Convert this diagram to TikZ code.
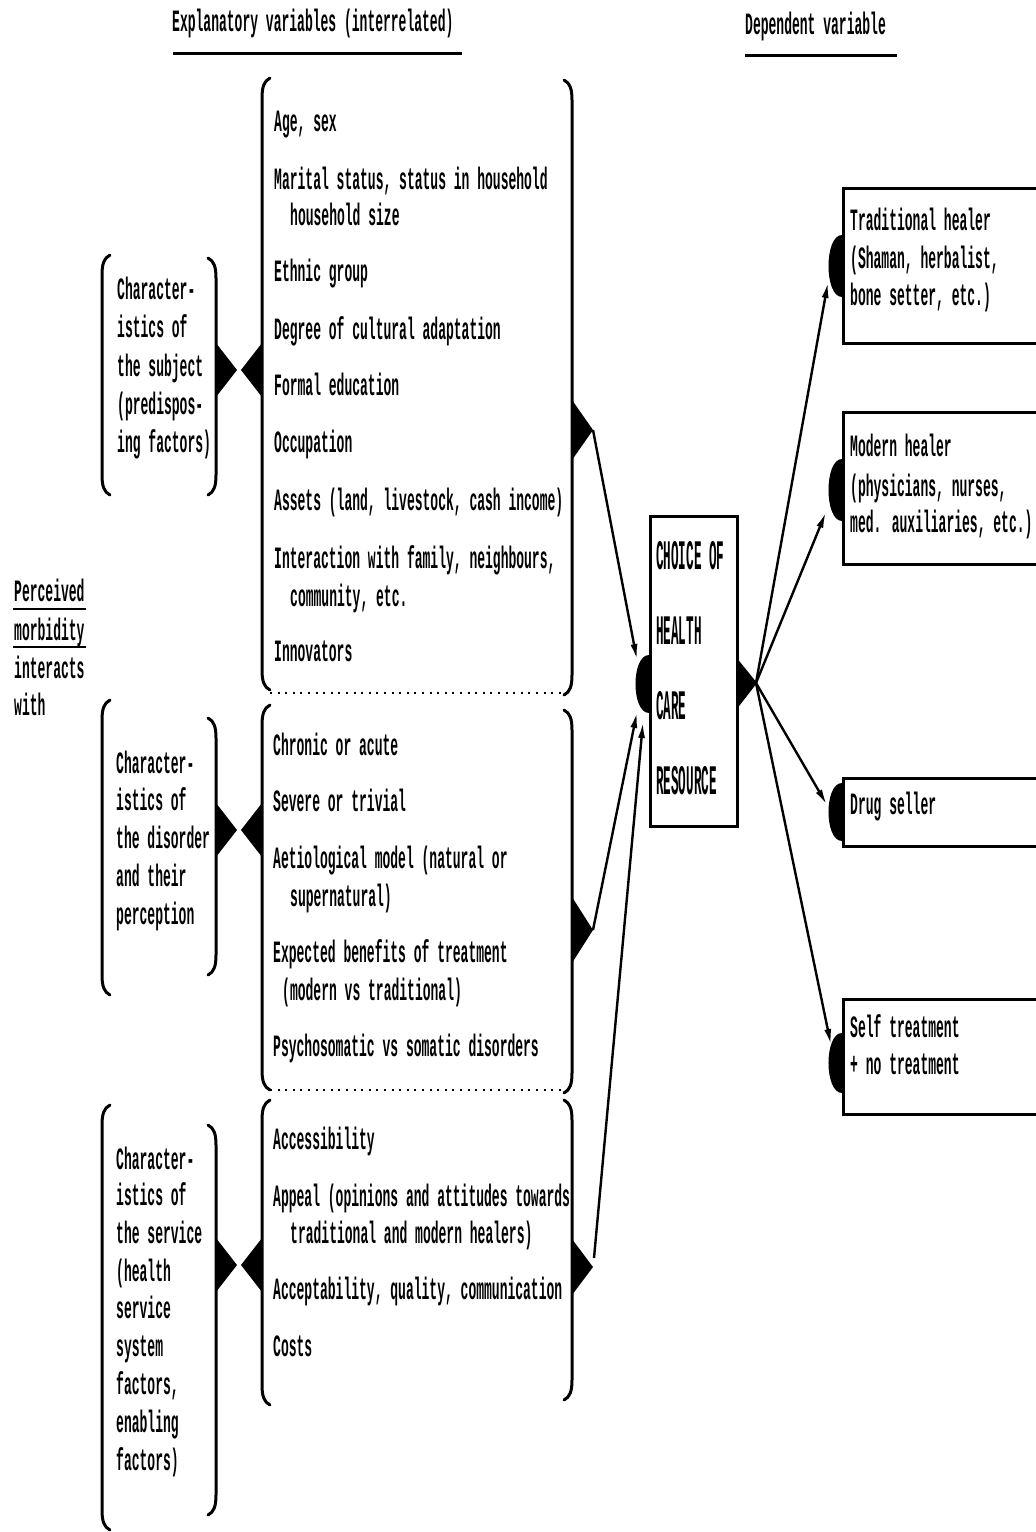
\documentclass[tikz,border=0pt]{standalone}
\usepackage{fontspec}
\usetikzlibrary{arrows.meta}
% condensed typewriter faces
\newfontfamily\twfont{Liberation Mono Bold}[FakeStretch=0.42]
\newfontfamily\twbig{Liberation Mono Bold}[FakeStretch=0.30]

% tall round brackets: x, top, bottom
\newcommand\brakL[3]{\draw[brak] (#1+8,#2) .. controls (#1+2,#2+3) and (#1,#2+9) .. (#1,#2+20) -- (#1,#3-20) .. controls (#1,#3-9) and (#1+2,#3-3) .. (#1+8,#3);}
\newcommand\brakR[3]{\draw[brak] (#1-8,#2) .. controls (#1-2,#2+3) and (#1,#2+9) .. (#1,#2+20) -- (#1,#3-20) .. controls (#1,#3-9) and (#1-2,#3-3) .. (#1-8,#3);}
% pair of wedges joining a small bracket to a large one, centred at height #1
\newcommand\tieat[1]{\fill (216,#1-27) -- (237,#1) -- (216,#1+27) -- cycle; \fill (262,#1-27) -- (241,#1) -- (262,#1+27) -- cycle;}
% half disc on the left side of a box: x, top, bottom
\newcommand\halfdisc[3]{\fill (#1,#2) .. controls (#1-18,#2) and (#1-18,#3) .. (#1,#3) -- cycle;}

\begin{document}
\begin{tikzpicture}[x=1pt,y=-1pt,
  txt/.style={anchor=base west, inner sep=0pt, font={\twfont\fontsize{31}{37}\selectfont}},
  big/.style={anchor=base west, inner sep=0pt, font={\twbig\fontsize{42}{50}\selectfont}},
  brak/.style={line width=3pt, line cap=round},
  frame/.style={draw, line width=3pt, inner sep=0pt, anchor=north west},
  arr/.style={line width=2.4pt, -{Latex[length=16pt,width=7pt]}},
  dots/.style={line width=2.6pt, dash pattern=on 2pt off 5.6pt},
  uline/.style={line width=3pt}]
\useasboundingbox (0,0) rectangle (1036,1532);
\fill[white] (0,0) rectangle (1036,1532);

% headings
\node[txt] (hexp) at (172,31) {Explanatory variables (interrelated)};
\draw[uline] (173,53) -- (462,53);
\node[txt] (hdep) at (745,34) {Dependent variable};
\draw[uline] (745,55) -- (897,55);

% perceived morbidity
\node[txt] (pm1) at (14,601) {Perceived};
\node[txt] (pm2) at (14,640) {morbidity};
\node[txt] (pm3) at (14,678) {interacts};
\node[txt] (pm4) at (14,715) {with};
\draw[line width=2.5pt] (13,609) -- (86,609);
\draw[line width=2.5pt] (13,647) -- (86,647);

% characteristics groups (small brackets)
\brakL{102}{255}{495} \brakR{216}{258}{495}
\brakL{102}{700}{995} \brakR{216}{718}{975}
\brakL{102}{1105}{1530} \brakR{216}{1125}{1515}
\foreach \y/\t [count=\i] in {299/Character-, 337/istics of, 376/the subject, 414/(predispos-, 452/ing factors)}
  \node[txt] (ca\i) at (117,\y) {\t};
\foreach \y/\t [count=\i] in {773/Character-, 810/istics of, 848/the disorder, 886/and their, 924/perception}
  \node[txt] (cb\i) at (116,\y) {\t};
\foreach \y/\t [count=\i] in {1169/Character-, 1205/istics of, 1243/the service, 1281/(health, 1318/service, 1356/system, 1394/{factors,}, 1432/enabling, 1470/factors)}
  \node[txt] (cc\i) at (116,\y) {\t};

\tieat{370} \tieat{830} \tieat{1265}

% explanatory variables (large brackets)
\brakL{262}{78}{690} \brakR{572}{80}{695}
\brakL{262}{705}{1090} \brakR{572}{710}{1093}
\brakL{262}{1100}{1405} \brakR{572}{1100}{1400}
\draw[dots] (270,693) -- (568,693);
\draw[dots] (270,1090) -- (568,1090);

\foreach \y/\x/\t [count=\i] in {131/274/{Age, sex}, 189/274/{Marital status, status in household}, 225/290/household size, 281/274/Ethnic group, 339/274/Degree of cultural adaptation, 395/274/Formal education, 452/274/Occupation, 510/274/{Assets (land, livestock, cash income)}, 568/274/{Interaction with family, neighbours,}, 606/290/{community, etc.}, 661/274/Innovators}
  \node[txt] (va\i) at (\x,\y) {\t};
\foreach \y/\x/\t [count=\i] in {755/273/Chronic or acute, 811/273/Severe or trivial, 868/273/Aetiological model (natural or, 906/290/supernatural), 962/273/Expected benefits of treatment, 1000/282/(modern vs traditional), 1056/273/Psychosomatic vs somatic disorders}
  \node[txt] (vb\i) at (\x,\y) {\t};
\foreach \y/\x/\t [count=\i] in {1149/273/Accessibility, 1206/273/Appeal (opinions and attitudes towards, 1243/290/traditional and modern healers), 1299/273/{Acceptability, quality, communication}, 1356/273/Costs}
  \node[txt] (vc\i) at (\x,\y) {\t};

% outlets of the three groups
\fill (572,400) -- (593,430) -- (572,460) -- cycle;
\fill (572,897) -- (593,930) -- (572,963) -- cycle;
\fill (572,1239) -- (593,1267) -- (572,1295) -- cycle;
\coordinate (g1) at (593,430);
\coordinate (g2) at (593,930);
\coordinate (g3) at (594,1258);

% choice of health care resource
\node[frame, minimum width=87, minimum height=310] (choice) at (649,515) {};
\node[big] (ch1) at (656,569) {CHOICE OF};
\node[big] (ch2) at (656,644) {HEALTH};
\node[big] (ch3) at (656,719) {CARE};
\node[big] (ch4) at (656,794) {RESOURCE};
\halfdisc{649}{655}{713}
\fill (736,657) -- (757,683) -- (736,710) -- cycle;
\coordinate (cout) at (756,683);
\coordinate (c1) at (637,660);
\coordinate (c2) at (637,712);
\coordinate (c3) at (643,722);
\draw[arr] (g1) -- (c1);
\draw[arr] (g2) -- (c2);
\draw[arr] (g3) -- (c3);

% dependent variable
\node[frame, minimum width=220, minimum height=155] (trad) at (842,187) {};
\node[frame, minimum width=220, minimum height=152] (modern) at (842,411) {};
\node[frame, minimum width=220, minimum height=68] (drug) at (842,777) {};
\node[frame, minimum width=220, minimum height=115] (self) at (842,998) {};
\halfdisc{842}{235}{297}
\halfdisc{842}{459}{521}
\halfdisc{842}{783}{841}
\halfdisc{842}{1033}{1093}
\node[txt] (tr1) at (850,230) {Traditional healer};
\node[txt] (tr2) at (850,268) {(Shaman, herbalist,};
\node[txt] (tr3) at (850,305) {bone setter, etc.)};
\node[txt] (mo1) at (850,456) {Modern healer};
\node[txt] (mo2) at (850,496) {(physicians, nurses,};
\node[txt] (mo3) at (850,532) {med. auxiliaries, etc.)};
\node[txt] (dr1) at (850,814) {Drug seller};
\node[txt] (se1) at (850,1037) {Self treatment};
\node[txt] (se2) at (850,1074) {+ no treatment};
\coordinate (o1) at (828,282);
\coordinate (o2) at (826,512);
\coordinate (o3) at (827,805);
\coordinate (o4) at (831,1045);
\draw[arr] (cout) -- (o1);
\draw[arr] (cout) -- (o2);
\draw[arr] (cout) -- (o3);
\draw[arr] (cout) -- (o4);
\end{tikzpicture}
\end{document}
